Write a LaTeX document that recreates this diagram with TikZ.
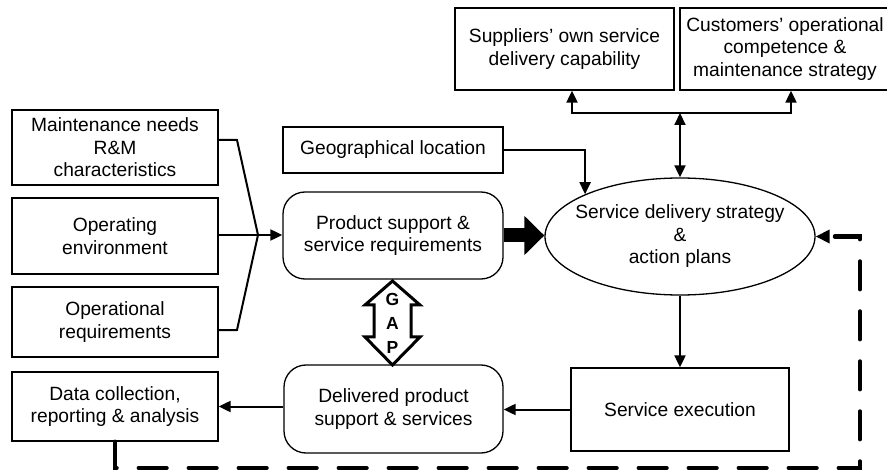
\documentclass[tikz,border=0pt]{standalone}
\usepackage{fontspec}
\setmainfont{Liberation Sans}
\usetikzlibrary{arrows.meta,shapes.geometric,calc}

\begin{document}
\begin{tikzpicture}[x=1pt,y=-1pt,
  every node/.style={font=\fontsize{19.2}{22.5}\selectfont, align=center, inner sep=0pt},
  box/.style={draw, line width=1.3pt, rectangle},
  rbox/.style={box, rounded corners=22pt},
  conn/.style={line width=2pt, -{Triangle[length=12pt,width=11pt]}},
  bothconn/.style={line width=2pt, {Triangle[length=12pt,width=11pt]}-{Triangle[length=12pt,width=11pt]}},
  plain/.style={line width=2pt},
  feedback/.style={line width=4.2pt, dash pattern=on 28pt off 22pt, line cap=round,
                   -{Triangle[length=14pt,width=13pt]}},
  bigarrow/.style={line width=14pt, -{Triangle[length=20pt,width=38pt]}},
  gapframe/.style={line width=3pt, line join=miter},
  gapletters/.style={font=\bfseries\fontsize{17.5}{24}\selectfont}
]
\useasboundingbox (0,0) rectangle (887,473);

% input boxes on the left
\node[box, minimum width=206pt, minimum height=75pt] (maint) at (115,147.5)
  {Maintenance needs\\R\&M\\characteristics};
\node[box, minimum width=206pt, minimum height=76pt] (openv) at (115,236)
  {Operating\\environment};
\node[box, minimum width=206pt, minimum height=70pt] (opreq) at (115,322)
  {Operational\\requirements};
\node[box, minimum width=206pt, minimum height=69pt] (data) at (115,406.5)
  {Data collection,\\reporting \& analysis};

% middle column
\node[box, minimum width=220pt, minimum height=46pt] (geo) at (393,150)
  {Geographical location};
\node[rbox, minimum width=220pt, minimum height=87pt] (prodreq) at (393,235.5)
  {Product support \&\\service requirements};
\node[rbox, minimum width=219pt, minimum height=88pt] (deliv) at (393.5,409)
  {Delivered product\\support \& services};

% top boxes
\node[box, minimum width=219pt, minimum height=82pt] (supp) at (564.5,49)
  {Suppliers' own service\\delivery capability};
\node[box, minimum width=210pt, minimum height=82pt] (cust) at (785,49)
  {Customers' operational\\competence \&\\maintenance strategy};

% strategy ellipse and execution
\node[ellipse, draw, line width=1.3pt, minimum width=270pt, minimum height=117pt] (strategy) at (680,236.5) {};
\node (strategytext) at (680,236.5) {Service delivery strategy\\\&\\action plans};
\node[box, minimum width=218pt, minimum height=83pt] (exec) at (680,409.5)
  {Service execution};

% merging inputs
\coordinate (merge) at (258,235);
\draw[plain] ($(maint.north east)!0.4!(maint.south east)$) -- (237,140) -- (merge);
\draw[plain] (openv.east |- merge) -- (merge);
\draw[plain] ($(opreq.north east)!0.614!(opreq.south east)$) -- (237,330) -- (merge);
\draw[conn] (merge) -- (prodreq.west |- merge);

% requirements feed the strategy
\draw[bigarrow] (prodreq.east) -- (strategy.west |- prodreq.east);
\draw[conn] (geo.east) -| (strategy.156);

% strategy and capabilities
\coordinate (hub) at (680,113);
\draw[bothconn] (strategy.north) -- (hub);
\draw[bothconn] ([xshift=7.5pt]supp.south) |- (hub) -| ([xshift=6pt]cust.south);

% execution chain
\draw[conn] (strategy.south) -- (exec.north);
\draw[conn] (exec.west) -- (deliv.east |- exec.west);
\draw[conn] (deliv.west |- data.east) -- (data.east);

% feedback loop
\coordinate (fbcorner) at (860,468);
\draw[feedback] (data.south) |- (fbcorner) |- (strategy.east);

% gap between required and delivered support
\draw[gapframe] (392.5,281) -- (420,305) -- (411,305) -- (411,337) -- (420,337)
  -- (392.5,365) -- (365,337) -- (374,337) -- (374,305) -- (365,305) -- cycle;
\node[gapletters] (gap) at (392.5,323.5) {G\\A\\P};
\end{tikzpicture}
\end{document}
